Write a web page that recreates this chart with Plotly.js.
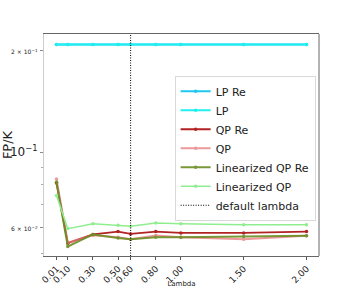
<!DOCTYPE html>
<html><head><meta charset="utf-8">
<script src="https://cdn.plot.ly/plotly-3.0.1.min.js"></script>
<style>html,body{margin:0;padding:0;background:#fff}#chart{width:354px;height:288px}</style>
</head><body><div id="chart"></div>
<script>
const lambdas = [0.01, 0.1, 0.3, 0.5, 0.6, 0.8, 1.0, 1.5, 2.0];
const xTickText = ['0.01','0.10','0.30','0.50','0.60','0.80','1.00','1.50','2.00'];
const lpRe   = [0.208, 0.208, 0.208, 0.208, 0.208, 0.208, 0.208, 0.208, 0.208];
const lp     = [0.208, 0.208, 0.208, 0.208, 0.208, 0.208, 0.208, 0.208, 0.208];
const qpRe   = [0.0810, 0.0538, 0.0571, 0.0582, 0.0573, 0.0582, 0.0577, 0.0577, 0.0582];
const qp     = [0.0832, 0.0540, 0.0568, 0.0560, 0.0553, 0.0567, 0.0560, 0.0553, 0.0566];
const linQpRe= [0.0815, 0.0526, 0.0571, 0.0557, 0.0553, 0.0560, 0.0560, 0.0563, 0.0566];
const linQp  = [0.0744, 0.0594, 0.0614, 0.0608, 0.0604, 0.0617, 0.0614, 0.0610, 0.0610];
const defaultLambda = 0.6;
const yTickVals = [0.2, 0.1, 0.06];
const yTickText = [
  "<span style='font-size:6px'>2 × 10<sup>−1</sup></span>",
  "10<sup>−1</sup>",
  "<span style='font-size:6px'>6 × 10<sup>−2</sup></span>"
];
const yMinorVals = [0.05, 0.07, 0.08, 0.09];

function tr(name, y, color, width, opacity) {
  return {x: lambdas, y: y, name: name, type: 'scatter', mode: 'lines+markers',
    line: {color: color, width: width}, marker: {color: color, size: 3.5},
    opacity: opacity || 1};
}
const data = [
  tr('LP Re', lpRe, '#1ec8f0', 2),
  tr('LP', lp, '#1ff0f0', 2),
  tr('QP Re', qpRe, '#b22222', 1.8),
  tr('QP', qp, '#e8787a', 2, 0.75),
  tr('Linearized QP Re', linQpRe, '#6b8e23', 2, 0.9),
  tr('Linearized QP', linQp, '#90ee90', 1.5)
];
const layout = {
  width: 354, height: 288,
  margin: {l: 44, r: 35, t: 34, b: 32},
  paper_bgcolor: '#fff', plot_bgcolor: '#fff',
  font: {family: 'DejaVu Sans', color: '#222', size: 9},
  showlegend: true,
  legend: {x: 0.475, y: 0.812, xanchor: 'left', yanchor: 'top',
    bgcolor: 'rgba(255,255,255,0.9)', bordercolor: '#d9d9d9', borderwidth: 1,
    font: {size: 11, color: '#222'}, tracegroupgap: 0},
  xaxis: {range: [-0.0895, 2.0995], tickmode: 'array', tickvals: lambdas, ticktext: xTickText,
    tickangle: -45, tickfont: {size: 9}, ticks: 'outside', ticklen: 3, tickcolor: '#555',
    showgrid: false, zeroline: false, showline: true, linecolor: '#666', linewidth: 1, mirror: true,
    title: {text: 'Lambda', font: {size: 7}, standoff: 2}},
  yaxis: {type: 'log', range: [Math.log10(0.0493), Math.log10(0.2234)],
    tickmode: 'array', tickvals: yTickVals, ticktext: yTickText, tickfont: {size: 12},
    ticks: 'outside', ticklen: 3, tickcolor: '#888',
    minor: {tickmode: 'array', tickvals: yMinorVals, ticks: 'outside', ticklen: 2, tickcolor: '#aaa', showgrid: false},
    showgrid: false, zeroline: false, showline: true, linecolor: '#ccc', linewidth: 1,
    title: {text: 'FP/K', font: {size: 13}, standoff: 5}},
  shapes: [
    {type: 'line', xref: 'paper', yref: 'paper', x0: 1, x1: 1, y0: 0, y1: 1,
      line: {color: '#666', width: 1}},
    {type: 'line', xref: 'x', yref: 'paper', x0: defaultLambda, x1: defaultLambda, y0: 0, y1: 1,
      line: {color: '#000', width: 1, dash: '1px,1.5px'}, showlegend: true, name: 'default lambda'}
  ]
};
Plotly.newPlot('chart', data, layout, {displayModeBar: false, staticPlot: true});
</script></body></html>
